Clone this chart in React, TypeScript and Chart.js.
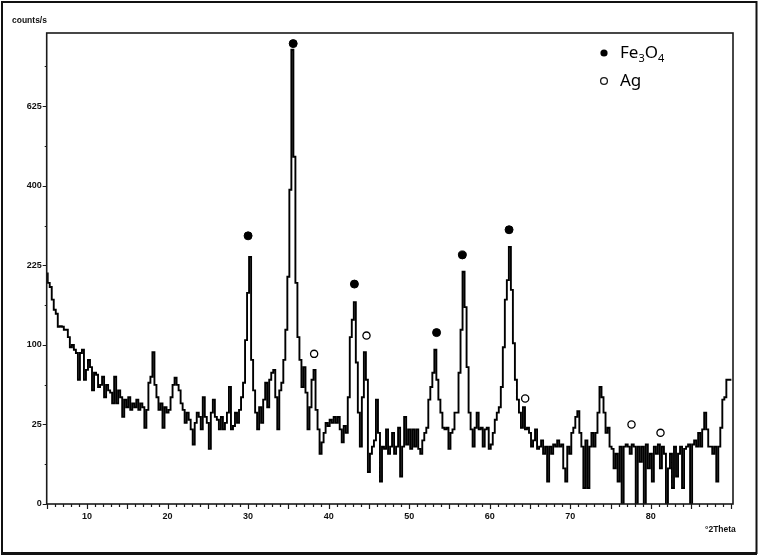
import React, { useEffect, useRef } from 'react';
import { Chart, registerables } from 'chart.js';

Chart.register(...registerables);

// ---- Data ----
// XRD scan: 2θ from scanStart in steps of scanStep, intensities in counts/s
const scanStart = 5;
const scanStep = 0.25;
const counts = [
  210, 193, 186, 165, // 5
  149, 143, 124, 125, // 6
  124, 120, 120, 110, // 7
  97, 100, 94, 90, // 8
  61, 90, 94, 61, // 9
  71, 82, 74, 51, // 10
  68, 66, 54, 56, // 11
  64, 45, 56, 51, // 12
  49, 40, 64, 40, // 13
  51, 45, 30, 43, // 14
  37, 45, 35, 40, // 15
  37, 43, 35, 40, // 16
  37, 23, 35, 58, // 17
  64, 91, 56, 45, // 18
  35, 40, 23, 37, // 19
  33, 35, 45, 56, // 20
  63, 56, 51, 40, // 21
  35, 26, 33, 28, // 22
  22, 14, 26, 33, // 23
  30, 22, 45, 30, // 24
  26, 12, 33, 43, // 25
  30, 28, 22, 30, // 26
  22, 26, 33, 54, // 27
  22, 24, 33, 26, // 28
  35, 45, 58, 106, // 29
  176, 241, 82, 51, // 30
  33, 22, 37, 26, // 31
  43, 58, 37, 61, // 32
  68, 71, 45, 22, // 33
  51, 58, 82, 120, // 34
  204, 390, 815, 476, // 35
  193, 110, 82, 54, // 36
  74, 49, 22, 37, // 37
  61, 71, 35, 22, // 38
  10, 15, 20, 26, // 39
  24, 28, 26, 30, // 40
  26, 30, 22, 15, // 41
  24, 20, 45, 110, // 42
  134, 161, 79, 33, // 43
  13, 45, 91, 61, // 44
  4, 10, 13, 16, // 45
  43, 20, 2, 13, // 46
  12, 22, 10, 13, // 47
  20, 10, 13, 23, // 48
  3, 13, 30, 14, // 49
  22, 12, 22, 13, // 50
  22, 12, 10, 16, // 51
  20, 23, 43, 54, // 52
  68, 94, 61, 43, // 53
  33, 23, 22, 23, // 54
  12, 20, 22, 33, // 55
  33, 68, 120, 213, // 56
  153, 74, 33, 22, // 57
  13, 23, 33, 22, // 58
  23, 13, 22, 23, // 59
  12, 14, 20, 28, // 60
  33, 37, 54, 97, // 61
  165, 198, 261, 181, // 62
  102, 61, 43, 33, // 63
  23, 37, 22, 23, // 64
  20, 13, 16, 22, // 65
  12, 13, 16, 10, // 66
  13, 2, 13, 10, // 67
  14, 13, 16, 13, // 68
  14, 5, 2, 13, // 69
  10, 20, 23, 30, // 70
  34, 20, 13, 1, // 71
  16, 1, 13, 20, // 72
  13, 20, 33, 54, // 73
  45, 33, 20, 23, // 74
  13, 12, 5, 10, // 75
  2, 13, 0, 13, // 76
  14, 13, 10, 14, // 77
  13, 0, 13, 7, // 78
  13, 0, 14, 5, // 79
  10, 2, 13, 10, // 80
  14, 5, 13, 10, // 81
  0, 5, 10, 1, // 82
  13, 3, 10, 13, // 83
  1, 12, 13, 14, // 84
  0, 14, 16, 13, // 85
  20, 13, 22, 33, // 86
  22, 13, 13, 10, // 87
  13, 2, 13, 23, // 88
  43, 45, 61, 61, // 89
  61, // 90
];

// Phase markers (2θ, marker height in counts/s)
const fe3o4Peaks = [30.0, 35.6, 43.2, 53.4, 56.6, 62.4];
const fe3o4MarkerCounts = [284, 837, 191, 116, 245, 297];
const agPeaks = [38.2, 44.7, 64.4, 77.6, 81.2];
const agMarkerCounts = [89, 112, 44, 25, 20];

// Axes
const xTickLabels = [10, 20, 30, 40, 50, 60, 70, 80];
const yTickCounts = [0, 25, 100, 225, 400, 625];
const xMin = 5;
const xMax = 90.2;
const yMaxCounts = 876;
const yAxisTitle = 'counts/s';
const xAxisTitle = '°2Theta';
const legendLabels = ['Fe3O4', 'Ag'];

const sq = (v: number) => Math.sqrt(Math.max(0, v));

const decorPlugin = {
  id: 'decor',
  afterDraw(chart: any) {
    const { ctx, chartArea: a, scales } = chart;
    const xs = scales.x;
    const ys = scales.y;
    ctx.save();
    // plot frame
    ctx.strokeStyle = '#1a1a1a';
    ctx.lineWidth = 1.6;
    ctx.strokeRect(a.left, a.top, a.right - a.left, a.bottom - a.top);
    // x tick marks (every 1°, longer every 5°)
    ctx.lineWidth = 1.2;
    ctx.beginPath();
    for (let v = Math.ceil(xMin); v <= xMax; v++) {
      const px = Math.round(xs.getPixelForValue(v)) + 0.5;
      const len = v % 5 === 0 ? 5 : 3;
      ctx.moveTo(px, a.bottom);
      ctx.lineTo(px, a.bottom + len);
    }
    ctx.stroke();
    // y tick marks (major at labels, minor halfway in sqrt space)
    ctx.beginPath();
    const maxS = sq(yMaxCounts);
    for (let s = 0; s <= maxS; s += 2.5) {
      const py = Math.round(ys.getPixelForValue(s)) + 0.5;
      const len = Math.abs(s % 5) < 1e-6 ? 4 : 2;
      ctx.moveTo(a.left, py);
      ctx.lineTo(a.left - len, py);
    }
    ctx.stroke();
    // axis titles
    ctx.fillStyle = '#111';
    ctx.font = "bold 8.5px 'Liberation Sans'";
    ctx.textBaseline = 'middle';
    ctx.textAlign = 'left';
    ctx.fillText(yAxisTitle, 12, 21);
    ctx.fillText(xAxisTitle, 705, 530);
    // legend
    ctx.fillStyle = '#000';
    ctx.beginPath();
    ctx.arc(604, 53, 3.6, 0, Math.PI * 2);
    ctx.fill();
    ctx.beginPath();
    ctx.lineWidth = 1.3;
    ctx.arc(604, 81, 3.4, 0, Math.PI * 2);
    ctx.stroke();
    ctx.textBaseline = 'alphabetic';
    const big = "17px 'Noto Sans'";
    const small = "11px 'Noto Sans'";
    let tx = 620;
    const parts = [['Fe', big, 0], ['3', small, 4], ['O', big, 0], ['4', small, 4]];
    for (const [t, f, dy] of parts as any) {
      ctx.font = f;
      ctx.fillText(t, tx, 58 + dy);
      tx += ctx.measureText(t).width;
    }
    ctx.font = big;
    ctx.fillText(legendLabels[1], 620, 86);
    // outer frame
    ctx.strokeStyle = '#111';
    ctx.lineWidth = 2;
    ctx.strokeRect(2, 2, 754.5, 551);
    ctx.lineWidth = 3;
    ctx.beginPath();
    ctx.moveTo(1, 553.5);
    ctx.lineTo(757, 553.5);
    ctx.stroke();
    ctx.restore();
  },
};

export default function App() {
  const ref = useRef<HTMLCanvasElement>(null);
  useEffect(() => {
    if (!ref.current) return;
    const scan = counts.map((c, i) => ({ x: scanStart + i * scanStep, y: sq(c) }));
    const fe = fe3o4Peaks.map((x, i) => ({ x, y: sq(fe3o4MarkerCounts[i]) }));
    const ag = agPeaks.map((x, i) => ({ x, y: sq(agMarkerCounts[i]) }));
    const tickFont = { family: "'Liberation Sans'", size: 9, weight: 'bold' as const };
    const chart = new Chart(ref.current, {
      type: 'line',
      data: {
        datasets: [
          {
            label: 'scan',
            data: scan,
            borderColor: '#000',
            borderWidth: 1.9,
            pointRadius: 0,
            stepped: 'middle',
            fill: false,
          },
          {
            label: legendLabels[0],
            type: 'scatter',
            data: fe,
            showLine: false,
            pointRadius: 4,
            pointStyle: 'circle',
            backgroundColor: '#000',
            borderColor: '#000',
            borderWidth: 1,
          } as any,
          {
            label: legendLabels[1],
            type: 'scatter',
            data: ag,
            showLine: false,
            pointRadius: 3.6,
            pointStyle: 'circle',
            backgroundColor: '#fff',
            borderColor: '#000',
            borderWidth: 1.3,
          } as any,
        ],
      },
      options: {
        animation: false,
        responsive: false,
        devicePixelRatio: 1,
        layout: { padding: { left: 0, top: 33, right: 28, bottom: 0 } },
        plugins: { legend: { display: false }, tooltip: { enabled: false } },
        scales: {
          x: {
            type: 'linear',
            min: xMin,
            max: xMax,
            grid: { display: false, drawTicks: false },
            border: { display: false },
            afterBuildTicks: (s: any) => {
              s.ticks = xTickLabels.map((v) => ({ value: v }));
            },
            afterFit: (s: any) => {
              s.height = 52;
            },
            ticks: {
              color: '#111',
              font: tickFont,
              padding: 7,
              maxRotation: 0,
              autoSkip: false,
              callback: (v: any) => String(v),
            },
          },
          y: {
            type: 'linear',
            min: 0,
            max: sq(yMaxCounts),
            grid: { display: false, drawTicks: false },
            border: { display: false },
            afterBuildTicks: (s: any) => {
              s.ticks = yTickCounts.map((c) => ({ value: sq(c) }));
            },
            afterFit: (s: any) => {
              s.width = 46.7;
            },
            ticks: {
              color: '#111',
              font: tickFont,
              padding: 5,
              autoSkip: false,
              callback: (v: any) => String(Math.round(Number(v) * Number(v))),
            },
          },
        },
      },
      plugins: [decorPlugin],
    });
    return () => chart.destroy();
  }, []);
  return (
    <div style={{ position: 'fixed', left: 0, top: 0, width: 761, height: 556, background: '#fff' }}>
      <canvas ref={ref} width={761} height={556} style={{ width: 761, height: 556, display: 'block' }} />
    </div>
  );
}
